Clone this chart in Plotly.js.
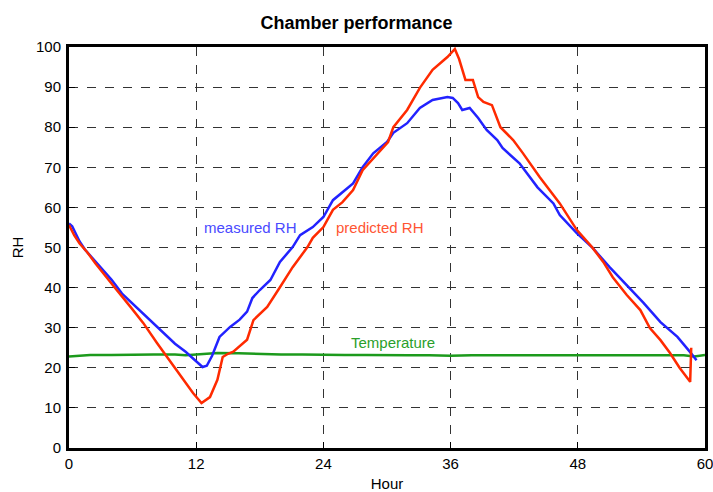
<!DOCTYPE html>
<html>
<head>
<meta charset="utf-8">
<script src="https://cdn.plot.ly/plotly-3.0.1.min.js"></script>
<style>html,body{margin:0;padding:0;background:#fff;}#chart{width:713px;height:492px;}</style>
</head>
<body>
<div id="chart"></div>
<script>
// Measured RH (blue)
const measuredHour = [0,0.3,1,1.5,2,3,4,5,6,7,8,9,10,11,12,12.6,13,13.5,14.2,15.2,16.1,16.8,17.3,18,19,19.9,21.1,21.8,23,24,24.9,25.8,26.8,27.7,28.7,30,30.6,31.9,33.1,34.3,35.7,36.2,36.7,37.1,37.8,38.6,39.4,40.4,40.9,42.5,44.2,45.7,46.3,47.9,49.4,51,52.6,54.2,55.8,57.4,58.6,59.2];
const measuredRH   = [56,55.3,51.5,49.5,48,45,42,38.5,36,33.5,31,28.5,26,24,21.5,20.2,20.5,23,27.7,30.2,32,34,37.4,39.4,41.9,46.4,50.1,53.1,55.1,57.6,61.8,63.8,66,70,73.5,76.3,78.6,81,84.8,86.8,87.5,87.3,86,84.3,84.8,82.3,79.3,76.8,74.8,71,65,61,58.1,53.6,49.9,45.1,40.6,36.2,31.4,27.7,23.9,21.9];

// Predicted RH (red)
const predictedHour = [0,0.5,1,1.7,2.5,3.2,4,4.5,5.8,7,8.3,9.5,10.8,11.7,12.5,13.3,14,14.5,15,15.5,16.8,17.4,18.7,19.9,21.1,22.5,23,24,24.9,25.8,26.8,27.7,29.1,30.1,30.6,31.9,33.1,34.3,35.7,36.4,36.8,37.1,37.4,38.1,38.6,39.1,39.9,40.7,41.9,42.8,44.4,46.3,47.9,49.4,50.4,51.3,52.6,53.9,54.8,55.8,56.7,57.6,58.6,58.7];
const predictedRH   = [55.6,53,51,48.9,46,43.6,41,39.4,35.2,31.2,26.2,21.9,17,13.7,11.2,12.7,17,22.7,23.5,24,27,31.9,35.2,40.1,45.1,50.1,52.4,55.1,59.4,61.3,64.3,69.3,73.5,76.3,80,84.3,89.8,94.3,97.5,99.5,97,94.3,91.8,91.8,87.5,86.3,85.5,80,76.8,73.6,67.6,61,54.4,49.9,46.4,42.6,38.2,34.4,29.9,26.9,23.7,20,16.5,25];

// Temperature (green)
const tempHour = [0,1,2,4,6,8,10,11,12,13,14,16,18,20,22,24,26,28,30,32,34,36,38,40,42,44,46,48,50,52,54,56,58,59,60];
const tempVal  = [22.8,23,23.2,23.2,23.3,23.3,23.3,23.1,23.3,23.5,23.7,23.6,23.4,23.3,23.3,23.2,23.2,23.2,23.1,23.1,23.1,23.0,23.1,23.1,23.1,23.2,23.1,23.2,23.1,23.2,23.2,23.1,23.1,22.8,23.2];

const xTicks = [0,12,24,36,48,60];
const yTicks = [0,10,20,30,40,50,60,70,80,90,100];

const FONT = 'Arial, "Liberation Sans", sans-serif';

const traces = [
  {x: tempHour, y: tempVal, mode:'lines', line:{color:'#1c9a1c', width:2.5}, hoverinfo:'skip'},
  {x: measuredHour, y: measuredRH, mode:'lines', line:{color:'#2222ff', width:2.5}, hoverinfo:'skip'},
  {x: predictedHour, y: predictedRH, mode:'lines', line:{color:'#ff2a00', width:2.5}, hoverinfo:'skip'}
];

const axisCommon = {
  showline:true, linecolor:'#000', linewidth:3, mirror:true,
  showgrid:true, gridcolor:'#333', gridwidth:1, griddash:'dash',
  zeroline:false, ticks:'inside', ticklen:6, tickcolor:'#000', tickwidth:1,
  tickfont:{family:FONT, size:15, color:'#000'}
};

const layout = {
  width:713, height:492,
  margin:{l:69, r:8, t:47, b:44},
  paper_bgcolor:'#fff', plot_bgcolor:'#fff',
  showlegend:false,
  title:{text:'<b>Chamber performance</b>', font:{family:FONT, size:18, color:'#000'}, x:0.5, xanchor:'center', y:0.953, yanchor:'middle'},
  xaxis: Object.assign({}, axisCommon, {
    range:[0,60], tickvals:xTicks, ticktext:xTicks.map(String),
    ticklabeloverflow:'allow',
    title:{text:'Hour', font:{family:FONT, size:15, color:'#000'}, standoff:10}
  }),
  yaxis: Object.assign({}, axisCommon, {
    range:[0,100], tickvals:yTicks, ticktext:yTicks.map(String),
    ticklabelstandoff:2,
    title:{text:'RH', font:{family:FONT, size:15, color:'#000'}, standoff:9}
  }),
  annotations:[
    {x:17.1, y:55.1, xref:'x', yref:'y', text:'measured RH', showarrow:false, font:{family:FONT, size:15, color:'#4a4aff'}},
    {x:29.3, y:55.1, xref:'x', yref:'y', text:'predicted RH', showarrow:false, font:{family:FONT, size:15, color:'#ff5533'}},
    {x:30.6, y:26.2, xref:'x', yref:'y', text:'Temperature', showarrow:false, font:{family:FONT, size:15, color:'#2a9f2a'}}
  ]
};

Plotly.newPlot('chart', traces, layout, {staticPlot:true, displayModeBar:false});
</script>
</body>
</html>
